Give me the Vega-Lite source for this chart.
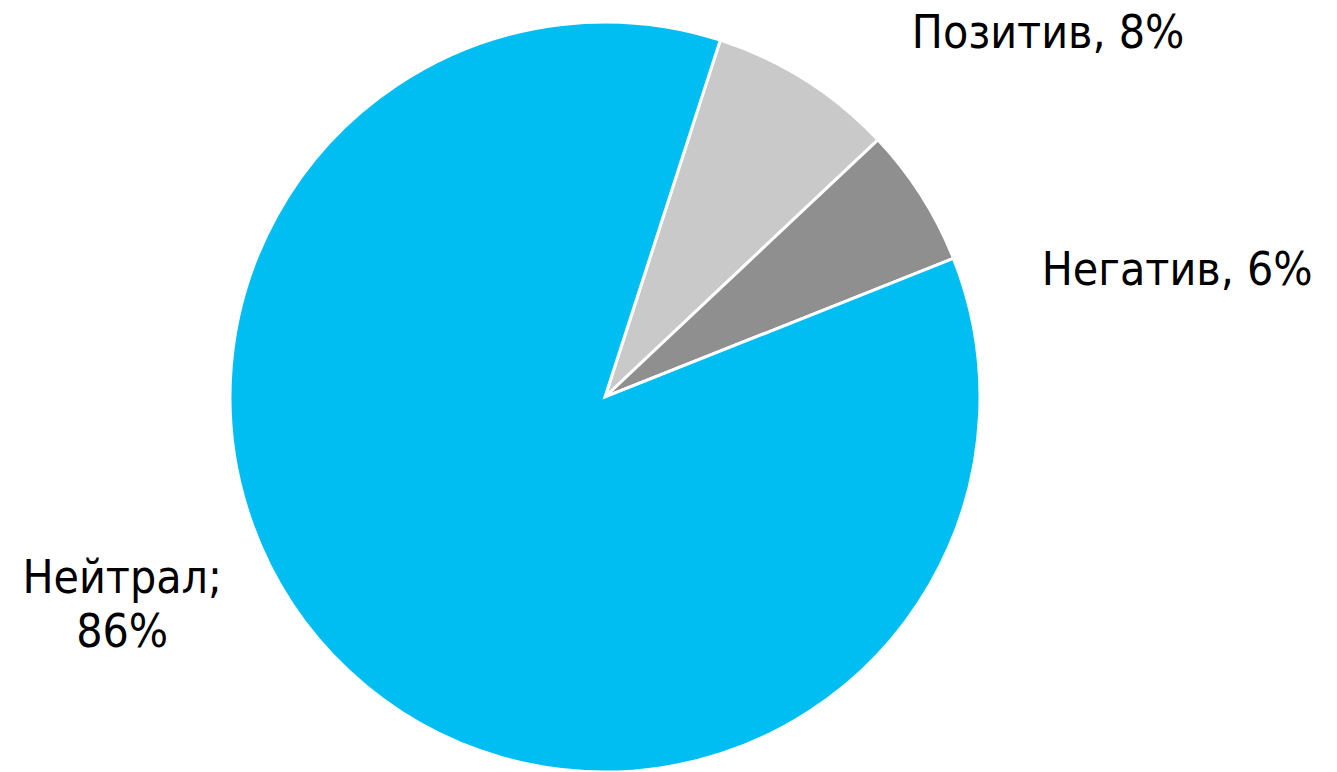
{
  "$schema": "https://vega.github.io/schema/vega-lite/v6.json",
  "autosize": "none",
  "padding": {"left": 0, "top": 22, "right": 127, "bottom": 0},
  "width": 1210,
  "height": 750,
  "background": "white",
  "config": {"view": {"stroke": null}},
  "data": {
    "values": [
      {"cat": "Позитив", "value": 8, "ord": 1, "label": "Позитив, 8%"},
      {"cat": "Негатив", "value": 6, "ord": 2, "label": "Негатив, 6%"},
      {"cat": "Нейтрал", "value": 86, "ord": 3, "label": "Нейтрал;\n86%"}
    ]
  },
  "encoding": {
    "theta": {"field": "value", "type": "quantitative", "stack": true, "scale": {"range": [0.3124, 6.5956]}},
    "order": {"field": "ord", "type": "quantitative"}
  },
  "layer": [
    {
      "mark": {"type": "arc", "outerRadius": 375, "stroke": "white", "strokeWidth": 3},
      "encoding": {
        "color": {
          "field": "cat", "type": "nominal", "legend": null,
          "scale": {"domain": ["Позитив", "Негатив", "Нейтрал"], "range": ["#C9C9C9", "#8F8F8F", "#00BEF2"]}
        }
      }
    },
    {
      "mark": {"type": "text", "radius": 430, "align": "left", "baseline": "middle", "dx": 77, "dy": 0, "font": "DejaVu Sans Condensed", "fontSize": 46, "color": "black"},
      "encoding": {"text": {"condition": {"test": "datum.cat === 'Позитив'", "field": "label"}, "value": ""}}
    },
    {
      "mark": {"type": "text", "radius": 430, "align": "left", "baseline": "middle", "dx": 74, "dy": 105, "font": "DejaVu Sans Condensed", "fontSize": 46, "color": "black"},
      "encoding": {"text": {"condition": {"test": "datum.cat === 'Негатив'", "field": "label"}, "value": ""}}
    },
    {
      "mark": {"type": "text", "radius": 430, "align": "center", "baseline": "middle", "lineBreak": "\n", "lineHeight": 54, "dx": -189, "dy": -132, "font": "DejaVu Sans Condensed", "fontSize": 46, "color": "black"},
      "encoding": {"text": {"condition": {"test": "datum.cat === 'Нейтрал'", "field": "label"}, "value": ""}}
    }
  ]
}
